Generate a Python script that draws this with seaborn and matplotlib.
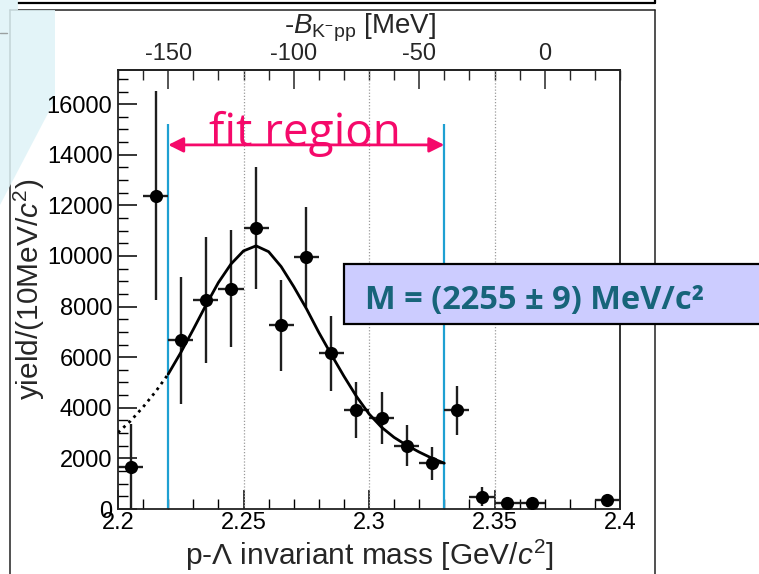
import numpy as np
import pandas as pd
import matplotlib
matplotlib.use("Agg")
import matplotlib.pyplot as plt
from matplotlib.patches import Rectangle, Polygon
from matplotlib.ticker import MultipleLocator, FixedLocator, FuncFormatter
import seaborn as sns

# ---------------- data ----------------
mass = [2.205, 2.215, 2.225, 2.235, 2.245, 2.255, 2.265, 2.275, 2.285,
        2.295, 2.305, 2.315, 2.325, 2.335, 2.345, 2.355, 2.365, 2.395]
yield_ = [1670, 12380, 6660, 8250, 8710, 11100, 7270, 9960, 6150,
          3900, 3600, 2500, 1810, 3900, 490, 220, 220, 370]
yield_err = [1680, 4130, 2520, 2490, 2320, 2400, 1800, 1960, 1480,
             1100, 1030, 820, 660, 970, 370, 100, 100, 120]
bin_half = 0.005

fit_mass = [2.200, 2.205, 2.210, 2.215, 2.220, 2.225, 2.230, 2.235, 2.240,
            2.245, 2.250, 2.255, 2.260, 2.265, 2.270, 2.275, 2.280, 2.285,
            2.290, 2.295, 2.300, 2.305, 2.310, 2.315, 2.320, 2.325, 2.330]
fit_yield = [3020, 3480, 4030, 4640, 5330, 6180, 7100, 8050, 8950,
             9680, 10200, 10400, 10170, 9580, 8790, 7930, 6980, 6100,
             5250, 4450, 3760, 3230, 2830, 2520, 2250, 2010, 1810]
fit_lo, fit_hi = 2.22, 2.33
kpp_threshold = 2.370  # GeV, -B = 0

xticks = [2.2, 2.25, 2.3, 2.35, 2.4]
yticks = [0, 2000, 4000, 6000, 8000, 10000, 12000, 14000, 16000]
top_ticks = [-150, -100, -50, 0]

# ---------------- style ----------------
sns.set_style("ticks")
plt.rcParams["font.family"] = ["Liberation Sans", "DejaVu Sans"]
plt.rcParams["mathtext.fontset"] = "custom"
plt.rcParams["mathtext.rm"] = "Liberation Sans"
plt.rcParams["mathtext.it"] = "Liberation Sans:italic"
plt.rcParams["mathtext.bf"] = "Liberation Sans:bold"
plt.rcParams["axes.unicode_minus"] = False

W, H = 759, 574
fig = plt.figure(figsize=(W / 100, H / 100), dpi=100)
fig.patch.set_facecolor("white")

# background decoration axis in pixel coordinates
bg = fig.add_axes([0, 0, 1, 1], zorder=0)
bg.set_xlim(0, W)
bg.set_ylim(H, 0)
bg.axis("off")
bg.plot([18, 655], [3, 3], color="black", lw=1.6)
bg.plot([655, 655], [0, 3], color="black", lw=1.6)
bg.plot([10, 655], [10, 10], color="#222222", lw=1.1)
bg.plot([10, 10], [10, H], color="#222222", lw=1.1)
bg.plot([655, 655], [10, H], color="#222222", lw=1.1)
bg.add_patch(Polygon([(0, 0), (18, 0), (18, 10), (55, 10), (55, 100), (0, 205)],
                     closed=True, facecolor="#dff3f7", edgecolor="none", alpha=0.85, zorder=3))
bg.plot([0, 7], [33, 33], color="#9aa0a0", lw=1.0, zorder=4)

# main plot axes
x0, x1, ytop, ybot = 118, 620, 70, 509
ax = fig.add_axes([x0 / W, 1 - ybot / H, (x1 - x0) / W, (ybot - ytop) / H], zorder=1)
ax.set_facecolor("white")

df = pd.DataFrame({"mass": mass, "yield": yield_, "err": yield_err})
fit_df = pd.DataFrame({"mass": fit_mass, "yield": fit_yield})
fit_in = fit_df[fit_df["mass"] >= fit_lo - 1e-9]
fit_out = fit_df[fit_df["mass"] <= fit_lo + 1e-9]

for xv in xticks[1:-1]:
    ax.axvline(xv, color="#9a9a9a", lw=0.9, ls=(0, (1, 1.5)), zorder=1)

ax.vlines([fit_lo, fit_hi], 0, 15200, color="#1ea0d2", lw=1.6, zorder=2)

ax.errorbar(df["mass"], df["yield"], yerr=df["err"], xerr=bin_half,
            fmt="none", ecolor="#1e1e1e", elinewidth=1.7, capsize=0, zorder=3)
sns.scatterplot(data=df, x="mass", y="yield", ax=ax, color="black", s=90,
                edgecolor="black", linewidth=0, zorder=4, legend=False)

sns.lineplot(data=fit_in, x="mass", y="yield", ax=ax, color="black", lw=2.0,
             zorder=5, legend=False)
sns.lineplot(data=fit_out, x="mass", y="yield", ax=ax, color="black", lw=2.0,
             ls=(0, (1, 1.6)), zorder=5, legend=False)

ax.annotate("", xy=(fit_lo, 14390), xytext=(fit_hi, 14390),
            arrowprops=dict(arrowstyle="<|-|>,head_length=0.9,head_width=0.45",
                            color="#f5096a", lw=2.0, shrinkA=0, shrinkB=0), zorder=6)
ax.text(2.2745, 14330, "fit region", color="#f5096a", fontsize=33,
        family=["Open Sans", "DejaVu Sans"], ha="center", va="baseline", zorder=6)

ax.set_xlim(2.2, 2.4)
ax.set_ylim(0, 17350)
ax.xaxis.set_major_locator(FixedLocator(xticks))
ax.xaxis.set_minor_locator(MultipleLocator(0.01))
ax.xaxis.set_major_formatter(FuncFormatter(lambda v, p: f"{v:g}"))
ax.yaxis.set_major_locator(FixedLocator(yticks))
ax.yaxis.set_minor_locator(MultipleLocator(500))
ax.yaxis.set_major_formatter(FuncFormatter(lambda v, p: f"{int(round(v))}"))
ax.tick_params(axis="both", which="both", direction="in", top=False, right=False,
               labelsize=17, colors="black")
ax.tick_params(axis="both", which="major", length=14, width=1.1, pad=2)
ax.tick_params(axis="both", which="minor", length=7, width=1.0)
ax.tick_params(axis="y", which="major", pad=4)
for sp in ax.spines.values():
    sp.set_linewidth(1.3)
    sp.set_color("#222222")

ax.set_xlabel(r"p-$\Lambda$ invariant mass [GeV/$c^{2}$]", fontsize=21.5, labelpad=3)
ax.set_ylabel(r"yield/(10MeV/$c^{2}$)", fontsize=21.5, labelpad=0)

sec = ax.secondary_xaxis("top", functions=(lambda m: m * 1000 - kpp_threshold * 1000,
                                           lambda b: (b + kpp_threshold * 1000) / 1000))
sec.xaxis.set_major_locator(FixedLocator(top_ticks))
sec.xaxis.set_minor_locator(MultipleLocator(10))
sec.xaxis.set_major_formatter(FuncFormatter(lambda v, p: f"{int(round(v))}"))
sec.tick_params(axis="x", which="both", direction="in", labelsize=17)
sec.tick_params(axis="x", which="major", length=14, width=1.1, pad=3.5)
sec.tick_params(axis="x", which="minor", length=7, width=1.0)
sec.set_xlabel(r"-$B_{\mathrm{K^{-}pp}}$ [MeV]", fontsize=20, labelpad=7)
sec.xaxis.label.set_x(0.483)
sec.spines["top"].set_linewidth(1.3)

# overlay: mass result box
ov = fig.add_axes([0, 0, 1, 1], zorder=10)
ov.set_xlim(0, W)
ov.set_ylim(H, 0)
ov.axis("off")
ov.patch.set_alpha(0)
ov.add_patch(Rectangle((344, 264), 440, 60, facecolor="#ccccff", edgecolor="black", lw=1.6))
ov.text(365, 309, "M = (2255 ± 9) MeV/c²", color="#17647a", fontsize=23.5,
        fontweight="bold", family=["Open Sans", "DejaVu Sans"], ha="left", va="baseline")

fig.savefig("out.png", dpi=100)
